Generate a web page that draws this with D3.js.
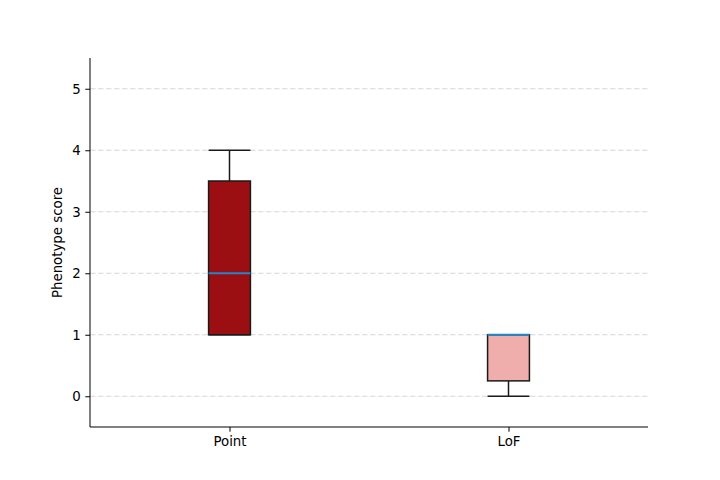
<!DOCTYPE html>
<html><head><meta charset="utf-8">
<script src="https://cdn.jsdelivr.net/npm/d3@7"></script>
<style>body{margin:0;background:#fff}svg{display:block}text{font-family:"DejaVu Sans",sans-serif}</style>
</head><body><svg id="c" width="720" height="480"></svg>
<script>
const categories = ["Point", "LoF"];
const q1 = [1, 0.25];
const median = [2, 1];
const q3 = [3.5, 1];
const whiskerLow = [1, 0];
const whiskerHigh = [4, 1];
const fills = ["#9b0f12", "#efaeab"];
const yTicks = [0, 1, 2, 3, 4, 5];

const svg = d3.select("#c");
const L = 90, R = 648, T = 58, B = 427;
const x = d3.scaleLinear().domain([0.5, 2.5]).range([L, R]);
const y = d3.scaleLinear().domain([-0.5, 5.5]).range([B, T]);
const bw = 0.15, cw = 0.075;

// grid
svg.append("g").selectAll("line").data(yTicks).join("line")
  .attr("x1", L).attr("x2", R)
  .attr("y1", d => y(d)).attr("y2", d => y(d))
  .attr("stroke", "#d6d6d6").attr("stroke-width", 1)
  .attr("stroke-dasharray", "5.5,2.5");

const g = svg.append("g");
categories.forEach((c, i) => {
  const p = i + 1;
  g.append("line").attr("x1", x(p)).attr("x2", x(p)).attr("y1", y(q3[i])).attr("y2", y(whiskerHigh[i])).attr("stroke", "#1a1a1a").attr("stroke-width", 1.5);
  g.append("line").attr("x1", x(p)).attr("x2", x(p)).attr("y1", y(q1[i])).attr("y2", y(whiskerLow[i])).attr("stroke", "#1a1a1a").attr("stroke-width", 1.5);
  [whiskerHigh[i], whiskerLow[i]].forEach(v => {
    g.append("line").attr("x1", x(p - cw)).attr("x2", x(p + cw)).attr("y1", y(v)).attr("y2", y(v)).attr("stroke", "#1a1a1a").attr("stroke-width", 1.5);
  });
  g.append("rect").attr("x", x(p - bw / 2)).attr("width", x(p + bw / 2) - x(p - bw / 2))
    .attr("y", y(q3[i])).attr("height", y(q1[i]) - y(q3[i]))
    .attr("fill", fills[i]).attr("stroke", "#1a1a1a").attr("stroke-width", 1.5);
  g.append("line").attr("x1", x(p - bw / 2)).attr("x2", x(p + bw / 2)).attr("y1", y(median[i])).attr("y2", y(median[i]))
    .attr("stroke", "#1f88cc").attr("stroke-width", 2);
});

const ya = svg.append("g").attr("transform", `translate(${L},0)`)
  .call(d3.axisLeft(y).tickValues(yTicks).tickFormat(d3.format("d")).tickSize(4.7).tickPadding(4.5).tickSizeOuter(0));
const xa = svg.append("g").attr("transform", `translate(0,${B})`)
  .call(d3.axisBottom(x).tickValues([1, 2]).tickFormat((d) => categories[d - 1]).tickSize(4.7).tickPadding(4.5).tickSizeOuter(0));
[ya, xa].forEach(a => {
  a.selectAll("text").attr("font-size", 13.33).attr("fill", "#000").attr("font-family", "DejaVu Sans");
  a.selectAll("line").attr("stroke", "#000").attr("stroke-width", 1);
  a.select(".domain").attr("stroke", "#000").attr("stroke-width", 1);
});
ya.select(".domain").attr("d", `M0,${T}V${B}`);
xa.select(".domain").attr("d", `M${L},0H${R}`);

svg.append("text").attr("transform", `translate(62,${(T + B) / 2}) rotate(-90)`)
  .attr("text-anchor", "middle").attr("font-size", 13.33).text("Phenotype score");
</script></body></html>
